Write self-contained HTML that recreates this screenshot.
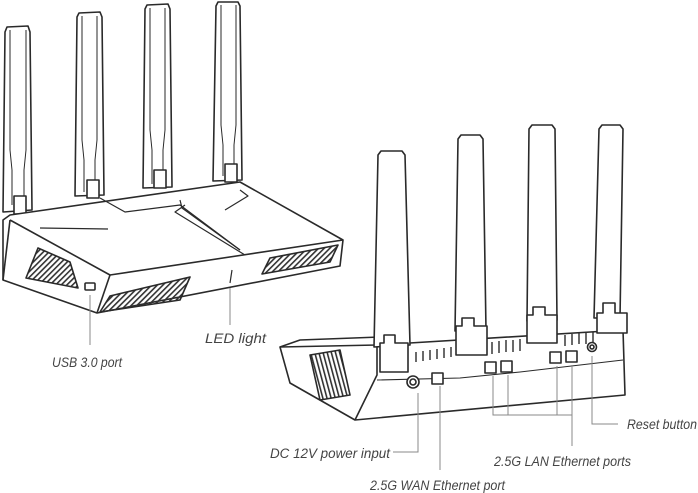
<!DOCTYPE html>
<html><head><meta charset="utf-8"><style>
html,body{margin:0;padding:0;background:#fff;width:698px;height:493px;overflow:hidden}
svg{display:block}
text{font-family:"Liberation Sans",sans-serif;font-style:italic;font-size:13.5px;fill:#444}
</style></head><body>
<svg width="698" height="493" viewBox="0 0 698 493" xmlns="http://www.w3.org/2000/svg">
<defs>
<pattern id="h1" width="4" height="4" patternUnits="userSpaceOnUse" patternTransform="rotate(45)"><rect width="1.6" height="4" fill="#333"/></pattern>
<pattern id="h2" width="4" height="4" patternUnits="userSpaceOnUse" patternTransform="rotate(-15)"><rect width="1.6" height="4" fill="#333"/></pattern>
</defs>
<g stroke="#2a2a2a" stroke-width="1.6" fill="#fff" stroke-linejoin="round">
<polygon points="5,32 7,27 28,26 30,32 32,210 3,212"/>
<polyline fill="none" stroke-width="1" points="10,30 10,150 12,170 12,205"/>
<polyline fill="none" stroke-width="1" points="26,30 26,150 24,170 24,205"/>
<rect x="14" y="196" width="12" height="18"/>
<polygon points="77,17 79,13 100,12 102,17 104,195 75,196"/>
<polyline fill="none" stroke-width="1" points="82,16 82,140 84,160 84,192"/>
<polyline fill="none" stroke-width="1" points="97,16 97,140 95,160 95,192"/>
<rect x="87" y="180" width="12" height="18"/>
<polygon points="145,9 147,5 168,4 170,9 172,187 143,188"/>
<polyline fill="none" stroke-width="1" points="150,8 150,130 152,150 152,184"/>
<polyline fill="none" stroke-width="1" points="165,8 165,130 163,150 163,184"/>
<rect x="154" y="170" width="12" height="18"/>
<polygon points="216,6 218,2 238,2 240,6 242,180 213,181"/>
<polyline fill="none" stroke-width="1" points="221,5 221,125 223,145 223,176"/>
<polyline fill="none" stroke-width="1" points="236,5 236,125 234,145 234,176"/>
<rect x="225" y="164" width="12" height="18"/>
<polygon points="3,220 10,215 240,182 343,240 340,266 97,313 3,280"/>
<polyline fill="none" points="10,220 110,275 343,240"/>
<polyline fill="none" points="110,275 97,313"/>
<polyline fill="none" points="10,220 3,280"/>
<polyline fill="none" stroke-width="1.2" points="40,228 108,229"/>
<polyline fill="none" stroke-width="1.2" points="100,198 125,212 180,205 240,250"/>
<polyline fill="none" stroke-width="1.2" points="180,200 182,208 240,250"/>
<polyline fill="none" stroke-width="1.2" points="240,190 248,196 225,210"/>
<polyline fill="none" stroke-width="1.2" points="185,205 175,212 245,255"/>
<polygon points="38,248 70,262 78,288 26,278" fill="url(#h1)"/>
<polygon points="110,296 190,277 180,300 100,312" fill="url(#h1)"/>
<polygon points="270,258 338,245 330,262 262,274" fill="url(#h1)"/>
<rect x="85" y="283" width="10" height="7" rx="1"/>
<line x1="232" y1="270" x2="230" y2="283" stroke-width="1.2"/>
<polygon points="280,347 377,345 623,330 625,395 355,420 290,383"/>
<polyline fill="none" points="377,345 377,375 355,420"/>
<polyline fill="none" points="280,347 300,340 380,337"/>
<polygon points="310,355 340,350 350,395 320,400" fill="url(#h2)"/>
<polyline fill="none" stroke-width="1.1" points="377,380 460,378 520,372 623,360"/>
<g stroke-width="1.4">
<line x1="416" y1="352" x2="416" y2="362"/><line x1="423" y1="351" x2="423" y2="361"/><line x1="430" y1="350" x2="430" y2="360"/><line x1="437" y1="349" x2="437" y2="359"/><line x1="444" y1="348" x2="444" y2="358"/><line x1="451" y1="347" x2="451" y2="357"/>
<line x1="492" y1="342" x2="492" y2="354"/><line x1="499" y1="341" x2="499" y2="353"/><line x1="506" y1="340" x2="506" y2="352"/><line x1="513" y1="340" x2="513" y2="352"/><line x1="520" y1="339" x2="520" y2="351"/>
<line x1="565" y1="335" x2="565" y2="346"/><line x1="572" y1="334" x2="572" y2="345"/><line x1="579" y1="333" x2="579" y2="344"/><line x1="586" y1="333" x2="586" y2="344"/><line x1="593" y1="332" x2="593" y2="343"/>
</g>
<polygon points="378,155 381,151 402,151 405,155 410,345 374,347"/>
<polygon points="384,335 395,335 395,343 408,343 408,372 380,372 380,343 384,343"/>
<polygon points="458,139 461,135 480,135 483,139 486,330 455,331"/>
<polygon points="462,318 474,318 474,326 487,326 487,355 456,355 456,326 462,326"/>
<polygon points="529,129 532,125 552,125 555,129 557,320 527,321"/>
<polygon points="533,307 545,307 545,315 557,315 557,343 527,343 527,315 533,315"/>
<polygon points="599,129 602,125 620,125 623,129 620,318 594,318"/>
<polygon points="603,303 615,303 615,313 627,313 627,333 597,333 597,313 603,313"/>
<circle cx="413" cy="382" r="6"/><circle cx="413" cy="382" r="3"/>
<rect x="432" y="373" width="11" height="11"/>
<rect x="485" y="362" width="11" height="11"/><rect x="501" y="361" width="11" height="11"/>
<rect x="550" y="352" width="11" height="11"/><rect x="566" y="351" width="11" height="11"/>
<circle cx="592" cy="347" r="4.5"/><circle cx="592" cy="347" r="2"/>
</g>
<g stroke="#888" stroke-width="1" fill="none">
<line x1="90" y1="295" x2="90" y2="345"/>
<line x1="230" y1="288" x2="230" y2="325"/>
<polyline points="393,452 418,452 418,393"/>
<line x1="440" y1="386" x2="440" y2="470"/>
<polyline points="493,376 493,415 572,415"/>
<line x1="508" y1="375" x2="508" y2="415"/>
<line x1="557" y1="366" x2="557" y2="415"/>
<line x1="572" y1="365" x2="572" y2="446"/>
<polyline points="592,356 592,424 618,424"/>
</g>
<text x="52" y="367" textLength="70" lengthAdjust="spacingAndGlyphs">USB 3.0 port</text>
<text x="205" y="343" textLength="61" lengthAdjust="spacingAndGlyphs">LED light</text>
<text x="270" y="458" textLength="120" lengthAdjust="spacingAndGlyphs">DC 12V power input</text>
<text x="370" y="490" textLength="135" lengthAdjust="spacingAndGlyphs">2.5G WAN Ethernet port</text>
<text x="494" y="466" textLength="137" lengthAdjust="spacingAndGlyphs">2.5G LAN Ethernet ports</text>
<text x="627" y="429" textLength="70" lengthAdjust="spacingAndGlyphs">Reset button</text>
</svg>
</body></html>
